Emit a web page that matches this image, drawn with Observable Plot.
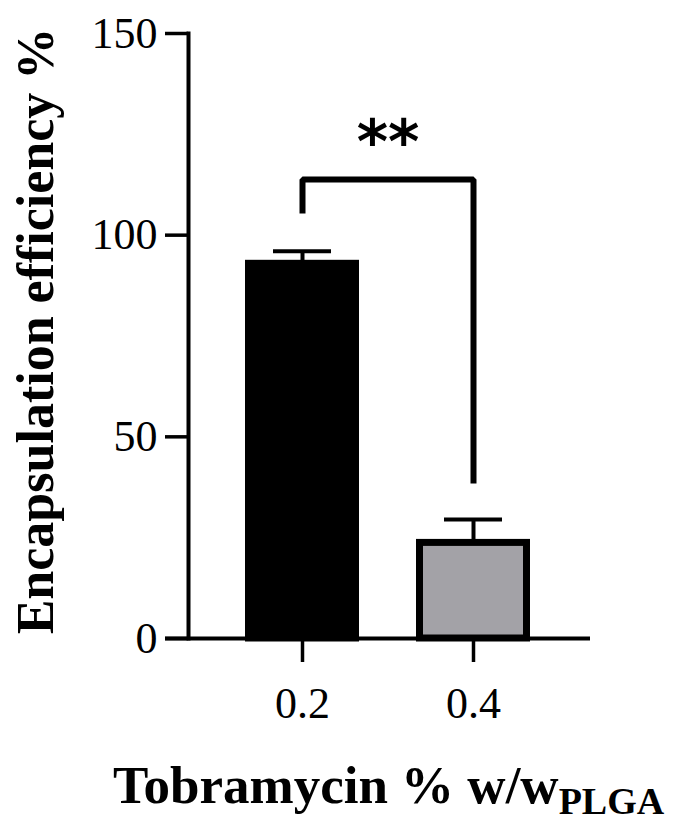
<!DOCTYPE html>
<html>
<head>
<meta charset="utf-8">
<script src="https://cdn.jsdelivr.net/npm/d3@7"></script>
<script src="https://cdn.jsdelivr.net/npm/@observablehq/plot@0.6"></script>
<style>
  html, body { margin: 0; padding: 0; background: #fff; }
  #wrap { position: relative; width: 676px; height: 827px; background: #fff; }
  #xtitle {
    position: absolute; left: 113px; top: 759px;
    font-family: "Liberation Serif", serif; font-weight: bold; font-size: 53px;
    line-height: 1; white-space: nowrap; color: #000;
  }
  #xtitle .sub { font-size: 38px; position: relative; top: 11px; }
</style>
</head>
<body>
<div id="wrap"></div>
<script>
// ---- data ----
const doses = ["0.2", "0.4"];
const means = [92.9, 23.7];
const sds = [3.1, 5.8];
const fills = ["#000000", "#a3a2a7"];
const yTicks = [0, 50, 100, 150];
const yTitle = "Encapsulation efficiency %";
const xTitleMain = "Tobramycin % w/w";
const xTitleSub = "PLGA";
// significance bracket
const sigFrom = "0.2", sigTo = "0.4";
const sigTop = 113.8, sigLeftEnd = 105.4, sigRightEnd = 38.4;
const sigLabel = "**";
const sigLabelY = 122.6;

const data = doses.map((d, i) => ({dose: d, mean: means[i], sd: sds[i], fill: fills[i]}));
const bracket = [
  {x: sigFrom, y: sigLeftEnd},
  {x: sigFrom, y: sigTop},
  {x: sigTo, y: sigTop},
  {x: sigTo, y: sigRightEnd}
];

const W = 676, H = 740, ML = 188, MR = 89, MT = 33, MB = 102;
const padI = 1/3, padO = 1/3;
const step = (W - ML - MR) / (doses.length - padI + 2 * padO);

const chart = Plot.plot({
  width: W, height: H,
  marginLeft: ML, marginRight: MR, marginTop: MT, marginBottom: MB,
  style: {fontFamily: "Liberation Serif", fontSize: "44px", color: "#000", background: "#fff"},
  x: {domain: doses, type: "band", paddingInner: padI, paddingOuter: padO, axis: null},
  y: {domain: [0, 150], axis: null},
  marks: [
    Plot.barY(data, {x: "dose", y: "mean", fill: "fill", stroke: "#000", strokeWidth: 7, insetLeft: 3.5, insetRight: 3.5}),
    Plot.ruleX(data, {x: "dose", y1: "mean", y2: d => d.mean + d.sd, stroke: "#000", strokeWidth: 4}),
    Plot.tickY(data, {x: "dose", y: d => d.mean + d.sd, stroke: "#000", strokeWidth: 4, insetLeft: 28, insetRight: 28}),
    Plot.line(bracket, {x: "x", y: "y", stroke: "#000", strokeWidth: 6, strokeLinejoin: "miter", strokeLinecap: "butt"}),
    Plot.text([sigLabel], {x: () => sigFrom, y: () => sigLabelY, text: d => d, dx: step / 2,
      fontFamily: "DejaVu Sans", fontWeight: "bold", fontSize: 60, fill: "#000"}),
    Plot.axisY({ticks: yTicks, tickSize: 23, tickPadding: 8, strokeWidth: 3.5, fontSize: 44, label: null, tickFormat: d => String(d)}),
    Plot.axisX({tickSize: 24, tickPadding: 24, strokeWidth: 3.5, fontSize: 44, label: null}),
    Plot.frame({anchor: "left", stroke: "#000", strokeWidth: 4}),
    Plot.ruleY([0], {stroke: "#000", strokeWidth: 4, insetLeft: -23, insetRight: -3}),
    Plot.text([yTitle], {frameAnchor: "left", textAnchor: "middle", rotate: -90, dx: -152, dy: -5, text: d => d,
      fontFamily: "Liberation Serif", fontWeight: "bold", fontSize: 52, fill: "#000"})
  ]
});

const wrap = document.getElementById("wrap");
wrap.appendChild(chart);
const xt = document.createElement("div");
xt.id = "xtitle";
xt.appendChild(document.createTextNode(xTitleMain));
const sub = document.createElement("span");
sub.className = "sub";
sub.textContent = xTitleSub;
xt.appendChild(sub);
wrap.appendChild(xt);
</script>
</body>
</html>
